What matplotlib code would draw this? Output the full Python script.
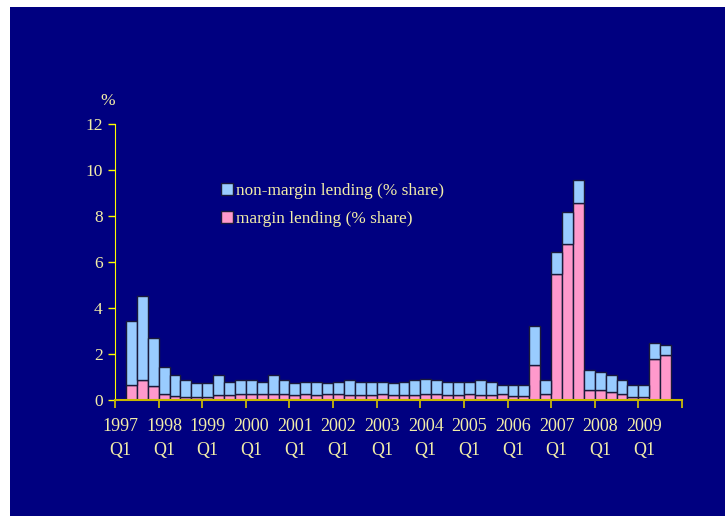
import matplotlib.pyplot as plt
import numpy as np

# quarterly data, 1997 Q2 .. 2009 Q3 (slot 0 = 1997 Q1 is empty)
years = [str(y) for y in range(1997, 2010)]
total = [3.42, 4.50, 2.67,
         1.42, 1.06, 0.84, 0.70,
         0.70, 1.06, 0.77, 0.84,
         0.84, 0.77, 1.06, 0.84,
         0.72, 0.77, 0.77, 0.70,
         0.77, 0.84, 0.77, 0.77,
         0.77, 0.70, 0.77, 0.84,
         0.91, 0.84, 0.77, 0.77,
         0.77, 0.84, 0.77, 0.62,
         0.62, 0.62, 3.19, 0.84,
         6.41, 8.16, 9.55, 1.28,
         1.20, 1.06, 0.84, 0.62,
         0.62, 2.46, 2.39]
margin = [0.61, 0.87, 0.57,
          0.26, 0.17, 0.11, 0.11,
          0.11, 0.18, 0.18, 0.26,
          0.26, 0.26, 0.26, 0.26,
          0.20, 0.26, 0.19, 0.26,
          0.26, 0.19, 0.19, 0.19,
          0.26, 0.19, 0.19, 0.19,
          0.26, 0.26, 0.19, 0.19,
          0.26, 0.19, 0.19, 0.26,
          0.16, 0.16, 1.51, 0.26,
          5.46, 6.78, 8.54, 0.41,
          0.41, 0.33, 0.26, 0.12,
          0.12, 1.78, 1.96]
non_margin = [round(t - m, 2) for t, m in zip(total, margin)]

navy = '#000080'
txt = '#F2EDA8'
plt.rcParams['font.family'] = ['Liberation Serif', 'DejaVu Serif']

fig = plt.figure(figsize=(7.25, 5.16), dpi=100)
fig.patch.set_facecolor('white')
fig.patches.append(plt.Rectangle((10 / 725, 0), 1, 1 - 7 / 516, transform=fig.transFigure,
                                 facecolor=navy, edgecolor='none', zorder=-10))

ax = fig.add_axes([115 / 725, 1 - 399.5 / 516, (682 - 115) / 725, (399.5 - 124) / 516])
ax.set_facecolor(navy)

x = np.arange(1, len(total) + 1)
ax.bar(x, margin, width=1.0, color='#FF99CC', edgecolor='#1a1a3a', linewidth=1,
       label='margin lending (% share)')
ax.bar(x, non_margin, bottom=margin, width=1.0, color='#99CCFF', edgecolor='#1a1a3a',
       linewidth=1, label='non-margin lending (% share)')

ax.set_xlim(-0.5, 51.5)
ax.set_ylim(0, 12)
ax.set_yticks(range(0, 13, 2))
ax.tick_params(axis='y', colors='#FFFF00', labelcolor=txt, labelsize=12.5, length=5,
               width=1, pad=4)

ax.set_xticks(np.arange(-0.5, 52, 4))
ax.set_xticklabels([])
ax.set_xticks(np.arange(0, 52, 4), minor=True)
ax.set_xticklabels([y + '\nQ1' for y in years], minor=True, fontsize=13,
                   color=txt, linespacing=1.55)
ax.tick_params(axis='x', which='major', colors='#D8C800', length=6, width=1.2)
ax.tick_params(axis='x', which='minor', length=0, pad=13)

for s in ['top', 'right']:
    ax.spines[s].set_visible(False)
ax.spines['left'].set_color('#FFFF00')
ax.spines['bottom'].set_color('#C8B800')
ax.spines['bottom'].set_linewidth(1.5)

fig.text(108 / 725, 1 - 101 / 516, '%', color=txt, fontsize=12.5, ha='center', va='center')

h, l = ax.get_legend_handles_labels()
leg = fig.legend(h[::-1], l[::-1], loc='upper left', bbox_to_anchor=(212 / 725, 1 - 174 / 516),
                 frameon=False, fontsize=12.4, handlelength=0.7, handleheight=0.7,
                 handletextpad=0.2, labelspacing=0.7, borderpad=0)
for t in leg.get_texts():
    t.set_color(txt)

fig.savefig('out.png', dpi=100, facecolor=fig.get_facecolor())
